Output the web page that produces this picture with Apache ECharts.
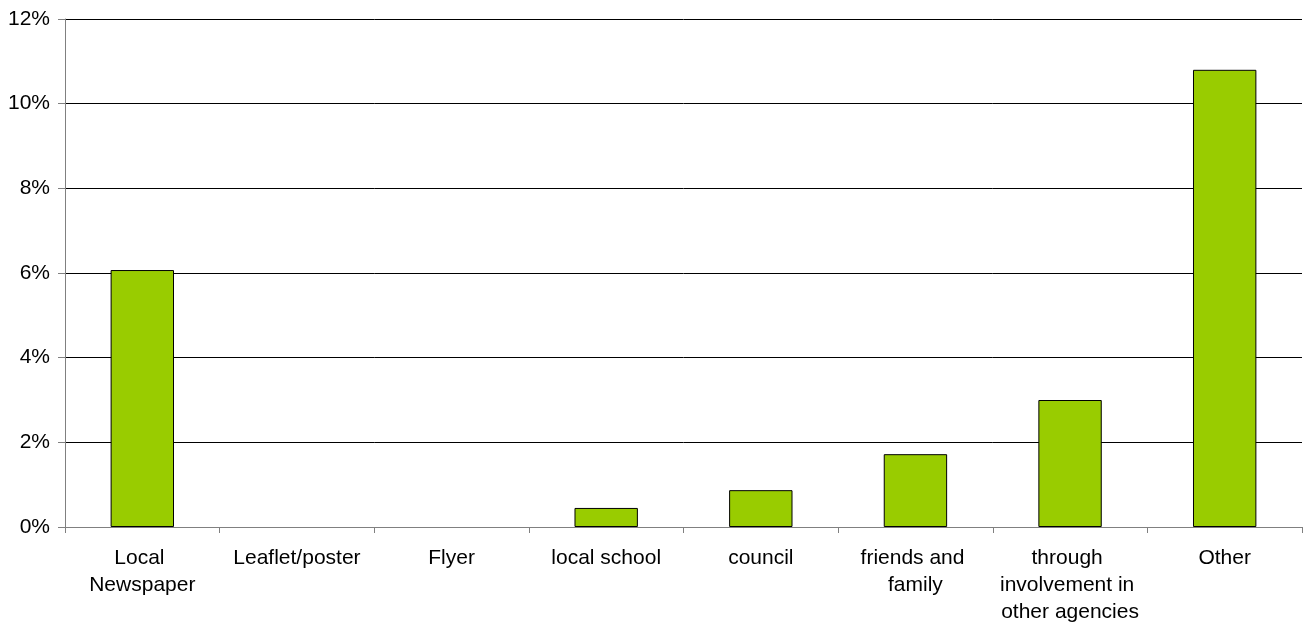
<!DOCTYPE html>
<html>
<head>
<meta charset="utf-8">
<script src="https://cdn.jsdelivr.net/npm/echarts@6/dist/echarts.min.js"></script>
<style>
html,body{margin:0;padding:0;background:#fff;}
#chart{width:1308px;height:630px;}
</style>
</head>
<body>
<div id="chart"></div>
<script>
const categories = ["Local Newspaper", "Leaflet/poster", "Flyer", "local school", "council", "friends and family", "through involvement in other agencies", "Other"];
const values = [6.07, 0, 0, 0.45, 0.87, 1.72, 3.0, 10.8];
const yTicks = { min: 0, max: 12, interval: 2 };

const barData = values.map(v => v === 0
  ? { value: v, itemStyle: { borderWidth: 0 } }
  : { value: v });

const chart = echarts.init(document.getElementById('chart'));
chart.setOption({
  animation: false,
  backgroundColor: '#ffffff',
  textStyle: { fontFamily: 'Liberation Sans, Arial, sans-serif' },
  grid: { left: 65, right: 6, top: 19, bottom: 103 },
  xAxis: {
    type: 'category',
    data: categories,
    axisLine: { lineStyle: { color: '#808080', width: 1 } },
    axisTick: { show: true, length: 6, lineStyle: { color: '#808080' } },
    axisLabel: {
      interval: 0,
      color: '#000',
      fontSize: 21,
      lineHeight: 27,
      margin: 18,
      width: 152,
      overflow: 'break',
      fontFamily: 'Liberation Sans, Arial, sans-serif'
    },
    splitLine: { show: false }
  },
  yAxis: {
    type: 'value',
    min: yTicks.min,
    max: yTicks.max,
    interval: yTicks.interval,
    axisLine: { show: true, lineStyle: { color: '#808080', width: 1 } },
    axisTick: { show: true, length: 7, lineStyle: { color: '#808080' } },
    axisLabel: {
      formatter: '{value}%',
      color: '#000',
      fontSize: 21,
      margin: 15,
      fontFamily: 'Liberation Sans, Arial, sans-serif'
    },
    splitLine: { show: true, lineStyle: { color: '#000', width: 1 } }
  },
  series: [{
    type: 'bar',
    data: barData,
    barWidth: '41%',
    itemStyle: { color: '#99CC00', borderColor: '#000', borderWidth: 1 }
  }]
});
</script>
</body>
</html>
